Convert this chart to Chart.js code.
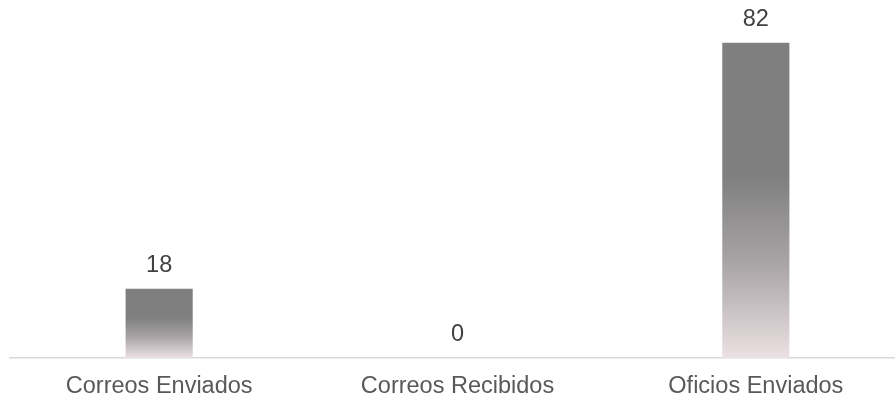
<!DOCTYPE html>
<html>
<head>
<meta charset="utf-8">
<script src="https://cdn.jsdelivr.net/npm/chart.js@4/dist/chart.umd.min.js"></script>
<style>
  html, body { margin: 0; padding: 0; background: #ffffff; overflow: hidden; }
  #wrap { width: 895px; height: 400px; overflow: hidden; }
  #wrap canvas { display: block; }
</style>
</head>
<body>
<div id="wrap"><canvas id="c" width="905" height="400"></canvas></div>
<script>
const categories = ['Correos Enviados', 'Correos Recibidos', 'Oficios Enviados'];
const counts = [18, 0, 82];

const FONT = '"Liberation Sans", Arial, sans-serif';
const TEXT_SIZE = 23.5;

// Vertical fade: solid grey on the upper part of each bar, blush white at the base
function barGradient(ctx) {
  const chart = ctx.chart;
  if (!chart.chartArea || !chart.scales.y) return '#7f7f7f';
  const y = chart.scales.y;
  const top = y.getPixelForValue(ctx.raw);
  const base = y.getPixelForValue(0);
  if (Math.abs(base - top) < 1) return '#7f7f7f';
  const g = chart.ctx.createLinearGradient(0, top, 0, base);
  g.addColorStop(0, '#7f7f7f');
  g.addColorStop(0.42, '#7f7f7f');
  g.addColorStop(0.7, '#a9a4a5');
  g.addColorStop(1, '#ebe1e3');
  return g;
}

// Value written above each bar
const valueLabels = {
  id: 'valueLabels',
  afterDatasetsDraw(chart) {
    const c = chart.ctx;
    const meta = chart.getDatasetMeta(0);
    c.save();
    c.font = TEXT_SIZE + 'px ' + FONT;
    c.fillStyle = '#404040';
    c.textAlign = 'center';
    c.textBaseline = 'middle';
    meta.data.forEach((bar, i) => {
      c.fillText(String(counts[i]), bar.x, bar.y - 23);
    });
    c.restore();
  }
};

new Chart(document.getElementById('c'), {
  type: 'bar',
  data: {
    labels: categories,
    datasets: [{
      data: counts,
      backgroundColor: barGradient,
      borderWidth: 0,
      categoryPercentage: 1,
      barPercentage: 0.225
    }]
  },
  options: {
    responsive: false,
    animation: false,
    layout: { padding: { left: 10, right: 0, top: 12, bottom: 0 } },
    plugins: { legend: { display: false }, tooltip: { enabled: false } },
    scales: {
      x: {
        grid: { display: false, drawTicks: false },
        border: { display: true, color: '#d9d9d9', width: 1.5 },
        ticks: { color: '#595959', font: { family: FONT, size: TEXT_SIZE }, padding: 14 },
        afterFit(scale) { scale.height = 42; }
      },
      y: {
        display: false,
        min: 0,
        max: 90
      }
    }
  },
  plugins: [valueLabels]
});
</script>
</body>
</html>
